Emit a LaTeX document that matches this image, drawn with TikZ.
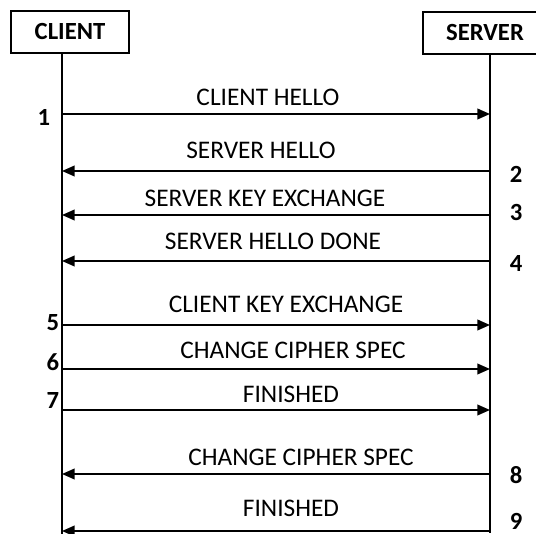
\documentclass[tikz,border=0pt]{standalone}
\usepackage{fontspec}
\setmainfont{Carlito}
\usetikzlibrary{arrows.meta}
\tikzset{
  actor/.style={draw, line width=1.5pt, minimum height=31.5pt, inner sep=0pt, font=\fontsize{18.5}{21}\selectfont\bfseries},
  life/.style={line width=1.1pt},
  msg/.style={line width=1.4pt, -{Triangle[length=9.5pt,width=8pt]}},
  lbl/.style={font=\fontsize{19}{22}\selectfont, inner sep=0pt},
  num/.style={font=\fontsize{18.5}{21}\selectfont\bfseries, inner sep=0pt}
}
\begin{document}
\begin{tikzpicture}[x=0.75pt,y=-0.75pt]
\useasboundingbox (0,0) rectangle (536,534);
\clip (0,0) rectangle (536,534);
\node[actor, minimum width=88.5pt] (client) at (70,32) {CLIENT};
\node[actor, minimum width=93pt] (server) at (485,33) {SERVER};
\coordinate (cb) at (62,534);
\coordinate (sb) at (490,533);
\draw[life] (client.south -| cb) -- (cb);
\draw[life] (server.south -| sb) -- (sb);
% message end points
\foreach \i/\y in {1/114,2/171,3/215,4/261,5/325,6/369,7/410,8/474,9/531}{
  \coordinate (c\i) at (62,\y);
  \coordinate (s\i) at (490,\y);
}
\draw[msg] (c1) -- (s1);
\draw[msg] (s2) -- (c2);
\draw[msg] (s3) -- (c3);
\draw[msg] (s4) -- (c4);
\draw[msg] (c5) -- (s5);
\draw[msg] (c6) -- (s6);
\draw[msg] (c7) -- (s7);
\draw[msg] (s8) -- (c8);
\draw[msg] (s9) -- (c9);
% labels
\node[lbl] (m1) at (268,97) {CLIENT HELLO};
\node[lbl] (m2) at (261,150) {SERVER HELLO};
\node[lbl] (m3) at (265,198) {SERVER KEY EXCHANGE};
\node[lbl] (m4) at (273,241) {SERVER HELLO DONE};
\node[lbl] (m5) at (286,304) {CLIENT KEY EXCHANGE};
\node[lbl] (m6) at (293,350) {CHANGE CIPHER SPEC};
\node[lbl] (m7) at (291,394) {FINISHED};
\node[lbl] (m8) at (301,457) {CHANGE CIPHER SPEC};
\node[lbl] (m9) at (291,508) {FINISHED};
% numbers
\node[num] (n1) at (44,117) {1};
\node[num] (n2) at (516,174) {2};
\node[num] (n3) at (516,213) {3};
\node[num] (n4) at (516,263) {4};
\node[num] (n5) at (53,323) {5};
\node[num] (n6) at (53,362) {6};
\node[num] (n7) at (53,401) {7};
\node[num] (n8) at (516,475) {8};
\node[num] (n9) at (516,521) {9};
\end{tikzpicture}
\end{document}
